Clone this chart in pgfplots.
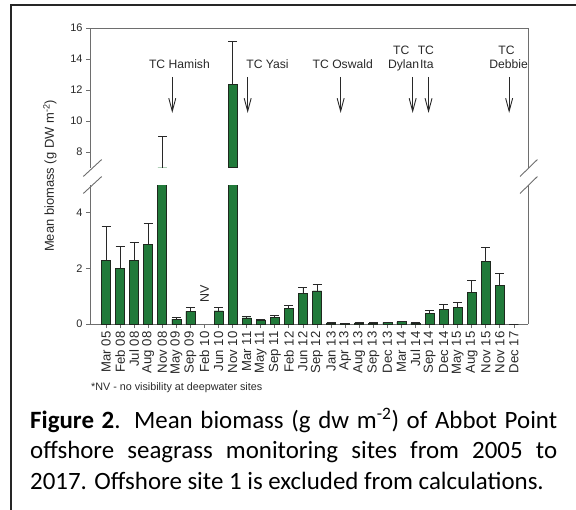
\documentclass[border=0pt]{standalone}
\usepackage{fontspec}
\setmainfont{Liberation Sans}
\newfontfamily\calibri{Carlito}
\usepackage{pgfplots}
\pgfplotsset{compat=1.18}
\usepackage{pgfplotstable}
\usetikzlibrary{arrows.meta}

\definecolor{bargreen}{RGB}{33,122,58}
\definecolor{bardark}{RGB}{30,40,30}
\definecolor{axisgray}{RGB}{110,110,110}
\definecolor{txt}{RGB}{40,40,40}

% mean biomass and SE (upper error only); index 7 (Feb 10) = NV
\pgfplotstableread{
i  m      e
0  2.29   1.21
1  2.00   0.79
2  2.30   0.63
3  2.86   0.77
4  6.00   3.03
5  0.18   0.07
6  0.45   0.15
8  0.47   0.12
9  12.37  2.77
10 0.22   0.04
11 0.15   0.03
12 0.24   0.05
13 0.56   0.12
14 1.10   0.23
15 1.19   0.23
16 0.04   0.01
17 0.02   0.01
18 0.04   0.01
19 0.03   0.01
20 0.05   0.01
21 0.08   0.02
22 0.03   0.01
23 0.38   0.12
24 0.52   0.17
25 0.60   0.17
26 1.15   0.42
27 2.24   0.51
28 1.38   0.45
29 0.00   0.00
}\biomass

\pgfplotsset{
  brk/.style={
    scale only axis, width=438bp,
    xmin=-1.14, xmax=30,
    axis line style={draw=axisgray, line width=0.9bp},
    tick style={draw=axisgray, line width=0.8bp},
    tick align=outside, major tick length=4bp,
    ytick pos=left,
    yticklabel style={font=\fontsize{11}{12}\selectfont, text=txt},
    /pgf/number format/assume math mode=true,
    clip mode=individual, clip marker paths=true,
    unbounded coords=discard,
  },
  bars/.style={ybar, bar width=9bp, fill=bargreen, draw=bardark, line width=0.6bp},
  errs/.style={error bars/.cd, y dir=plus, y explicit,
    error bar style={draw=txt, line width=0.9bp},
    error mark options={rotate=90, draw=txt, line width=0.9bp, mark size=4.5bp}},
}
\tikzset{tc/.style={txt, line width=0.9bp, -{Straight Barb[length=13bp, width=7bp]}}}

\begin{document}
\begin{tikzpicture}
\path[use as bounding box] (0,0) rectangle (576bp,-510bp);

% lower part, 0 to 5
\begin{axis}[brk,
  at={(90bp,-324bp)}, anchor=south west, height=139bp,
  ymin=0, ymax=5, ytick={0,2,4},
  axis x line*=bottom, axis y line*=box,
  xtick={0,...,29},
  xticklabels={Mar 05,Feb 08,Jul 08,Aug 08,Nov 08,May 09,Sep 09,Feb 10,Jun 10,Nov 10,
    Mar 11,May 11,Sep 11,Feb 12,Jun 12,Sep 12,Jan 13,Apr 13,Aug 13,Sep 13,
    Dec 13,Mar 14,Jul 14,Sep 14,Dec 14,May 15,Aug 15,Nov 15,Nov 16,Dec 17},
  xticklabel style={rotate=90, anchor=east, font=\fontsize{13.2}{14}\selectfont, text=txt},
]
\addplot[bars] table[x=i, y=m] {\biomass};
% error bars only where they end inside this part
\addplot[bars, y filter/.expression={y>5 ? nan : y}, errs]
  table[x=i, y=m, y error=e] {\biomass};
\node[rotate=90, font=\fontsize{12.5}{14}\selectfont, text=txt] at (axis cs:7,1.09) {NV};
\end{axis}

% upper part, 7 to 16
\begin{axis}[brk,
  at={(90bp,-28bp)}, anchor=north west, height=139.5bp,
  ymin=7, ymax=16, ytick={8,10,12,14,16},
  axis x line*=top, axis y line*=box,
  xtick=\empty,
]
% the two bars whose bar or error bar reaches this part
\addplot[bars, draw=none, y filter/.expression={y<5.5 ? nan : y}, errs,
  error mark=none]
  table[x=i, y=m, y error=e] {\biomass};
\addplot[bars, fill=none, y filter/.expression={y<7 ? nan : y}]
  table[x=i, y=m] {\biomass};
% caps of those error bars
\addplot[only marks, mark=-, mark size=4.5bp, mark options={draw=txt, line width=0.9bp},
  y filter/.expression={y<7 ? nan : y}]
  table[x=i, y expr=\thisrow{m}+\thisrow{e}] {\biomass};
\draw[tc] (axis cs:4.71,12.84) -- (axis cs:4.71,10.52);
\draw[tc] (axis cs:10.07,12.84) -- (axis cs:10.07,10.52);
\draw[tc] (axis cs:16.68,12.84) -- (axis cs:16.68,10.52);
\draw[tc] (axis cs:21.80,12.84) -- (axis cs:21.80,10.52);
\draw[tc] (axis cs:22.93,12.84) -- (axis cs:22.93,10.52);
\draw[tc] (axis cs:28.66,12.84) -- (axis cs:28.66,10.52);
\begin{scope}[every node/.style={anchor=base, inner sep=0pt, text=txt, font=\fontsize{12.2}{14}\selectfont}]
\node at (axis cs:5.22,13.40) {TC Hamish};
\node at (axis cs:11.48,13.40) {TC Yasi};
\node at (axis cs:16.83,13.40) {TC Oswald};
\node at (axis cs:20.99,14.32) {TC};
\node at (axis cs:21.16,13.40) {Dylan};
\node at (axis cs:22.74,14.32) {TC};
\node at (axis cs:22.81,13.40) {Ita};
\node at (axis cs:28.47,14.32) {TC};
\node at (axis cs:28.62,13.40) {Debbie};
\end{scope}
\end{axis}

% axis break marks
\begin{scope}[axisgray, line width=0.9bp]
\draw (83.3bp,-176.5bp) -- (101.7bp,-159.5bp);
\draw (83.3bp,-193.5bp) -- (101.7bp,-176.5bp);
\draw (520bp,-176.5bp) -- (537.4bp,-159.5bp);
\draw (520bp,-193.5bp) -- (537.4bp,-176.5bp);
\end{scope}

\node[rotate=90, text=txt, font=\fontsize{13}{14}\selectfont] at (50bp,-176bp)
  {Mean biomass (g DW m\textsuperscript{-2})};
\node[anchor=west, inner sep=0pt, text=txt, font=\fontsize{10.8}{12}\selectfont] at (91bp,-388bp)
  {*NV - no visibility at deepwater sites};

% frame
\draw[black!85, line width=2bp] (10.5bp,-510bp) -- (10.5bp,-4.5bp) -- (576bp,-4.5bp);

% caption
\node[anchor=base west, inner sep=0pt, text width=527bp, align=justify,
  font=\calibri\fontsize{25}{30.8}\selectfont] at (30bp,-428bp)
  {\textbf{Figure 2}. Mean biomass (g dw m\textsuperscript{-2}) of Abbot Point\linebreak
   offshore seagrass monitoring sites from 2005 to\linebreak
   2017. Offshore site 1 is excluded from calculations.};
\end{tikzpicture}
\end{document}
